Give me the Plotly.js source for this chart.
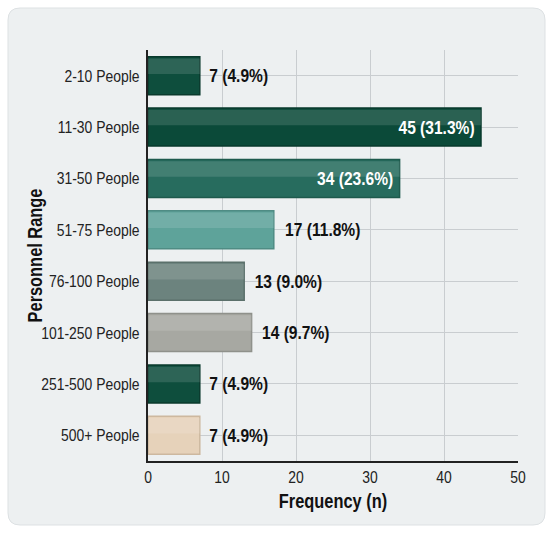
<!DOCTYPE html>
<html>
<head>
<meta charset="utf-8">
<script src="https://cdn.plot.ly/plotly-3.0.1.min.js"></script>
<style>
html,body{margin:0;padding:0;background:#ffffff;}
#chart{width:550px;height:533px;position:relative;}
</style>
</head>
<body>
<div id="chart"></div>
<script>
// ---- data ----
const categories = ["2-10 People","11-30 People","31-50 People","51-75 People","76-100 People","101-250 People","251-500 People","500+ People"];
const frequency = [7, 45, 34, 17, 13, 14, 7, 7];
const percent = ["4.9","31.3","23.6","11.8","9.0","9.7","4.9","4.9"];
const barColors = ["#0e4e3d","#0b4a39","#276c5e","#5ea39a","#6c837e","#a7a8a2","#0e4e3d","#e6d2ba"];
const borderColors = ["#0a3a2d","#083a2c","#1e5a4d","#4f8c84","#5b706b","#8f918b","#0a3a2d","#cdb89f"];
const labelPositions = ["outside","inside","inside","outside","outside","outside","outside","outside"];
const labelColors = ["#111111","#ffffff","#ffffff","#111111","#111111","#111111","#111111","#111111"];
const xTicks = [0, 10, 20, 30, 40, 50];

const labels = frequency.map((v, i) => v + " (" + percent[i] + "%)");

const FONT = '"Liberation Sans Narrow", "Arial Narrow", "Liberation Sans", Arial, sans-serif';
const NARROW = 0.82; // horizontal condensing of text to mimic a narrow face

const mainBars = {
  type: "bar",
  orientation: "h",
  y: categories,
  x: frequency,
  width: 0.74,
  marker: {color: barColors, line: {color: borderColors, width: 1.5}},
  text: labels,
  textposition: labelPositions,
  insidetextanchor: "end",
  constraintext: "none",
  cliponaxis: false,
  textfont: {family: FONT, size: 19, color: labelColors, weight: "bold"},
  hoverinfo: "none"
};

// glossy highlight band on the upper part of each bar
const glossBars = {
  type: "bar",
  orientation: "h",
  y: categories,
  x: frequency,
  width: 0.3,
  offset: -0.335,
  marker: {color: "rgba(255,255,255,0.13)", line: {width: 0}},
  hoverinfo: "none"
};

// card background (rounded rect) in paper coords of the plot area
const L = 148, R = 518, T = 50, B = 461, W = 550, H = 533;
const px = v => (v - L) / (R - L);
const py = v => (B - v) / (B - T);
const cx0 = px(8), cx1 = px(545), cy0 = py(525), cy1 = py(8);
const rx = 12 / (R - L), ry = 12 / (B - T);
const cardPath = `M ${cx0+rx},${cy1} L ${cx1-rx},${cy1} Q ${cx1},${cy1} ${cx1},${cy1-ry} L ${cx1},${cy0+ry} Q ${cx1},${cy0} ${cx1-rx},${cy0} L ${cx0+rx},${cy0} Q ${cx0},${cy0} ${cx0},${cy0+ry} L ${cx0},${cy1-ry} Q ${cx0},${cy1} ${cx0+rx},${cy1} Z`;

const layout = {
  width: W, height: H,
  margin: {l: L, r: W - R, t: T, b: H - B, pad: 0},
  paper_bgcolor: "#ffffff",
  plot_bgcolor: "#f5f7f8",
  showlegend: false,
  barmode: "overlay",
  font: {family: FONT, color: "#111111"},
  xaxis: {
    range: [0, 50],
    tickvals: xTicks,
    ticktext: xTicks.map(String),
    showgrid: true, gridcolor: "#c9cdd0", gridwidth: 1,
    zeroline: false,
    showline: true, linecolor: "#222222", linewidth: 2,
    ticks: "", ticklen: 0,
    tickfont: {family: FONT, size: 17, color: "#222222"},
    title: {text: "Frequency (n)", font: {family: FONT, size: 20, color: "#111111", weight: "bold"}, standoff: 8},
    fixedrange: true
  },
  yaxis: {
    type: "category",
    autorange: "reversed",
    showgrid: true, gridcolor: "#c9cdd0", gridwidth: 1,
    zeroline: false,
    showline: true, linecolor: "#222222", linewidth: 2,
    ticks: "", ticklen: 0,
    ticklabelstandoff: 3,
    tickfont: {family: FONT, size: 17, color: "#222222"},
    title: {text: "Personnel Range", font: {family: FONT, size: 20, color: "#111111", weight: "bold"}, standoff: 10},
    fixedrange: true
  },
  shapes: [
    {type: "path", xref: "paper", yref: "paper", layer: "below", path: cardPath,
     fillcolor: "#edf0f1", line: {color: "#dde1e3", width: 1}}
  ]
};

const gd = document.getElementById("chart");
Plotly.newPlot(gd, [mainBars, glossBars], layout, {displayModeBar: false, staticPlot: true}).then(() => {
  const sel = ".xtick text, .ytick text, text.bartext, .g-xtitle text, .g-ytitle text";
  gd.querySelectorAll(sel).forEach(t => {
    const x = parseFloat(t.getAttribute("x")) || 0;
    const y = parseFloat(t.getAttribute("y")) || 0;
    const tr = t.getAttribute("transform") || "";
    let shift = "";
    if (t.classList.contains("bartext")) {
      const fill = (t.style.fill || "").replace(/\s/g, "");
      if (fill === "rgb(255,255,255)" || fill === "#ffffff") {
        // keep inside labels close to the bar end, as in the reference
        const w = t.getBBox().width;
        shift = ` translate(${(1 - NARROW) * w / 2 * 0.6},0)`;
      }
    }
    t.setAttribute("transform", `${tr}${shift} translate(${x},${y}) scale(${NARROW},1) translate(${-x},${-y})`);
  });
  // place the y title like the reference (centre near x = 35)
  const yt = gd.querySelector(".g-ytitle text");
  if (yt) {
    const box = gd.getBoundingClientRect();
    const r = yt.getBoundingClientRect();
    const c = r.left - box.left + r.width / 2;
    yt.setAttribute("transform", `translate(${35 - c},0) ` + (yt.getAttribute("transform") || ""));
  }
});
</script>
</body>
</html>
